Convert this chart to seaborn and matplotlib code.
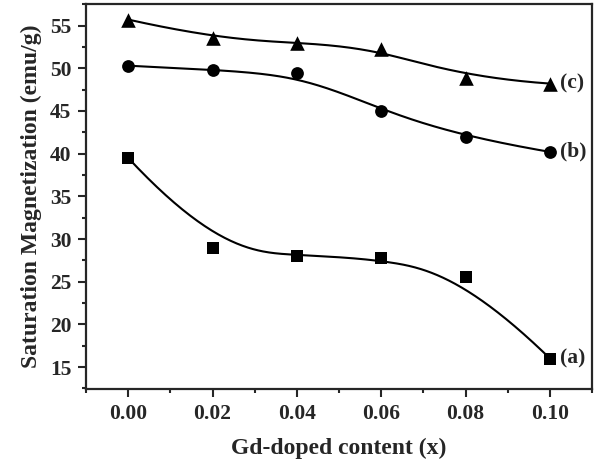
import numpy as np
import pandas as pd
import matplotlib
matplotlib.use("Agg")
import matplotlib.pyplot as plt
import seaborn as sns
from matplotlib.ticker import MultipleLocator

x_vals = [0.00, 0.02, 0.04, 0.06, 0.08, 0.10]
series_a = [39.5, 28.9, 28.0, 27.8, 25.6, 16.0]
series_b = [50.3, 49.8, 49.5, 45.0, 41.9, 40.2]
series_c = [55.7, 53.5, 53.0, 52.3, 48.9, 48.2]
labels = ["(a)", "(b)", "(c)"]
markers = ["s", "o", "^"]


def bspline(px, py, n=300, k=3):
    """Clamped uniform B-spline using the data points as control points."""
    P = np.column_stack([px, py])
    m = len(P)
    inner = np.arange(1, m - k)
    knots = np.concatenate([np.zeros(k + 1), inner, np.full(k + 1, m - k)]).astype(float)
    ts = np.linspace(0, m - k, n)
    out = []
    for t in ts:
        if t >= knots[m]:
            s = m - 1
        else:
            s = np.searchsorted(knots, t, side="right") - 1
        d = [P[j + s - k].copy() for j in range(k + 1)]
        for r in range(1, k + 1):
            for j in range(k, r - 1, -1):
                i = j + s - k
                denom = knots[i + k + 1 - r] - knots[i]
                a = 0.0 if denom == 0 else (t - knots[i]) / denom
                d[j] = (1 - a) * d[j - 1] + a * d[j]
        out.append(d[k])
    out = np.array(out)
    return out[:, 0], out[:, 1]


sns.set_style("ticks")
plt.rcParams["font.family"] = ["Liberation Serif", "DejaVu Serif"]
plt.rcParams["font.weight"] = "bold"

fig = plt.figure(figsize=(5.97, 4.66), dpi=100)
ax = fig.add_axes([0.144, 0.165, 0.848, 0.826])

msizes = {"s": 8.6, "o": 9.2, "^": 10.5}
for ys, lab, mk in zip([series_a, series_b, series_c], labels, markers):
    cx, cy = bspline(x_vals, ys)
    sns.lineplot(x=cx, y=cy, ax=ax, color="black", linewidth=1.5, sort=False,
                 estimator=None)
    sns.scatterplot(x=x_vals, y=ys, ax=ax, marker=mk, s=msizes[mk] ** 2,
                    color="black", edgecolor="black", linewidth=0, zorder=5)
    ax.text(x_vals[-1] + 0.0023, ys[-1], lab, fontsize=15.5, fontweight="bold",
            va="center", ha="left")

ax.set_xlim(-0.01, 0.11)
ax.set_ylim(12.42, 57.5)
ax.xaxis.set_major_locator(MultipleLocator(0.02))
ax.xaxis.set_minor_locator(MultipleLocator(0.01))
ax.yaxis.set_major_locator(MultipleLocator(5))
ax.yaxis.set_minor_locator(MultipleLocator(2.5))
ax.xaxis.set_major_formatter(matplotlib.ticker.FormatStrFormatter("%.2f"))
ax.tick_params(which="major", direction="out", length=5.5, width=1.5,
               labelsize=15.5, pad=5)
ax.tick_params(which="minor", direction="out", length=3, width=1.5)
for lbl in ax.get_xticklabels() + ax.get_yticklabels():
    lbl.set_fontweight("bold")
for sp in ax.spines.values():
    sp.set_linewidth(1.6)
    sp.set_visible(True)

ax.set_xlabel("Gd-doped content (x)", fontsize=17, fontweight="bold", labelpad=10)
ax.set_ylabel("Saturation Magnetization (emu/g)", fontsize=17, fontweight="bold",
              labelpad=6)

fig.savefig("out.png", dpi=100)
